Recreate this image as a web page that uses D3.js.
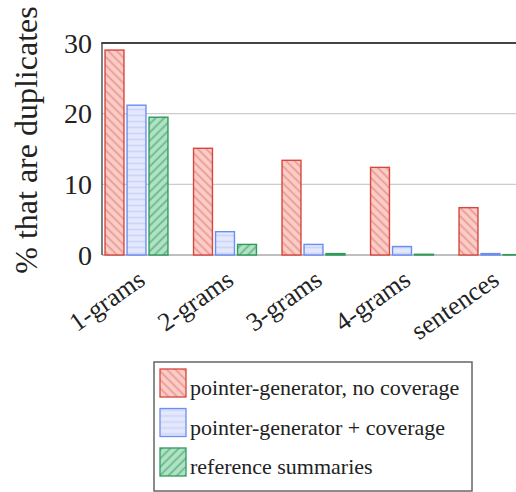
<!DOCTYPE html>
<html>
<head>
<meta charset="utf-8">
<script src="https://cdn.jsdelivr.net/npm/d3@7"></script>
</head>
<body style="margin:0">
<script>
var categories = ["1-grams", "2-grams", "3-grams", "4-grams", "sentences"];
var seriesNames = ["pointer-generator, no coverage", "pointer-generator + coverage", "reference summaries"];
var noCoverage = [29.0, 15.1, 13.4, 12.4, 6.7];
var withCoverage = [21.2, 3.3, 1.5, 1.2, 0.2];
var referenceSums = [19.5, 1.5, 0.2, 0.1, 0.05];
var yTicks = [0, 10, 20, 30];

var width = 516;
var height = 492;
var serifFont = "'Liberation Serif', Tinos, 'Times New Roman', FreeSerif, serif";

var svg = d3.select("body").append("svg")
    .attr("width", width)
    .attr("height", height);

// hatch patterns, one per series
var defs = svg.append("defs");
var styles = [
    {id: "hatchRed", stroke: "#d9463d", fill: "#f9cdc8", line: "#ec948c", angle: 45},
    {id: "hatchBlue", stroke: "#6b8ef2", fill: "#e4e8fc", line: "#ccd5f9", angle: 0},
    {id: "hatchGreen", stroke: "#2e9b5b", fill: "#b4e1c6", line: "#5ab882", angle: -45}
];
styles.forEach(function (s) {
    var p = defs.append("pattern")
        .attr("id", s.id)
        .attr("patternUnits", "userSpaceOnUse")
        .attr("width", 6)
        .attr("height", 6)
        .attr("patternTransform", "rotate(" + s.angle + ")");
    p.append("rect").attr("width", 6).attr("height", 6).attr("fill", s.fill);
    p.append("line")
        .attr("x1", 0).attr("y1", 1.5).attr("x2", 6).attr("y2", 1.5)
        .attr("stroke", s.line).attr("stroke-width", 1.6);
});

var plotLeft = 102, plotRight = 525, plotTop = 43, plotBottom = 255;

var y = d3.scaleLinear().domain([0, 30]).range([plotBottom, plotTop]);
var x = d3.scalePoint().domain(categories).range([136.5, 490.5]);
var xs = d3.scaleBand().domain(d3.range(3)).range([-33, 33]).paddingInner(0.14).paddingOuter(0.07);

// grid lines
svg.append("g").selectAll("line")
    .data(yTicks.slice(0, 3))
    .enter().append("line")
    .attr("x1", plotLeft).attr("x2", plotRight)
    .attr("y1", function (d) { return y(d); })
    .attr("y2", function (d) { return y(d); })
    .attr("stroke", function (d) { return d === 0 ? "#aaa" : "#ccc"; })
    .attr("stroke-width", 1.3);

// bars
var allSeries = [noCoverage, withCoverage, referenceSums];
allSeries.forEach(function (vals, si) {
    svg.append("g").selectAll("rect")
        .data(vals)
        .enter().append("rect")
        .attr("x", function (d, i) { return x(categories[i]) + xs(si); })
        .attr("width", xs.bandwidth())
        .attr("y", function (d) { return y(d); })
        .attr("height", function (d) { return y(0) - y(d); })
        .attr("fill", "url(#" + styles[si].id + ")")
        .attr("stroke", styles[si].stroke)
        .attr("stroke-width", 1.4);
});

// frame: left and top
svg.append("line")
    .attr("x1", plotLeft).attr("x2", plotLeft).attr("y1", plotTop).attr("y2", plotBottom)
    .attr("stroke", "#555").attr("stroke-width", 1.5);
svg.append("line")
    .attr("x1", plotLeft - 0.75).attr("x2", plotRight).attr("y1", plotTop).attr("y2", plotTop)
    .attr("stroke", "#444").attr("stroke-width", 2);

// y tick labels
svg.append("g").selectAll("text")
    .data(yTicks)
    .enter().append("text")
    .attr("x", 92)
    .attr("y", function (d) { return y(d); })
    .attr("dy", "0.35em")
    .attr("text-anchor", "end")
    .attr("fill", "#222")
    .style("font-family", serifFont)
    .style("font-size", "28px")
    .text(function (d) { return d; });

// y axis title
svg.append("text")
    .attr("transform", "translate(37," + 140 + ") rotate(-90)")
    .attr("text-anchor", "middle")
    .attr("fill", "#222")
    .style("font-family", serifFont)
    .style("font-size", "32px")
    .text("% that are duplicates");

// x tick labels
svg.append("g").selectAll("text")
    .data(categories)
    .enter().append("text")
    .attr("transform", function (d) { return "translate(" + (x(d) + 5) + "," + 276 + ") rotate(-35)"; })
    .attr("text-anchor", "end")
    .attr("dy", "0.35em")
    .attr("fill", "#222")
    .style("font-family", serifFont)
    .style("font-size", "26px")
    .text(function (d) { return d; });

// legend
var legend = svg.append("g");
legend.append("rect")
    .attr("x", 154).attr("y", 362)
    .attr("width", 318).attr("height", 129)
    .attr("fill", "#fff").attr("stroke", "#666").attr("stroke-width", 1.5);

var rows = legend.selectAll("g.row")
    .data(seriesNames)
    .enter().append("g")
    .attr("class", "row")
    .attr("transform", function (d, i) { return "translate(160," + (369 + i * 39.5) + ")"; });

rows.append("rect")
    .attr("width", 26).attr("height", 28)
    .attr("fill", function (d, i) { return "url(#" + styles[i].id + ")"; })
    .attr("stroke", function (d, i) { return styles[i].stroke; })
    .attr("stroke-width", 1.3);

rows.append("text")
    .attr("x", 30)
    .attr("y", 26)
    .attr("fill", "#222")
    .style("font-family", serifFont)
    .style("font-size", "22px")
    .text(function (d) { return d; });
</script>
</body>
</html>
